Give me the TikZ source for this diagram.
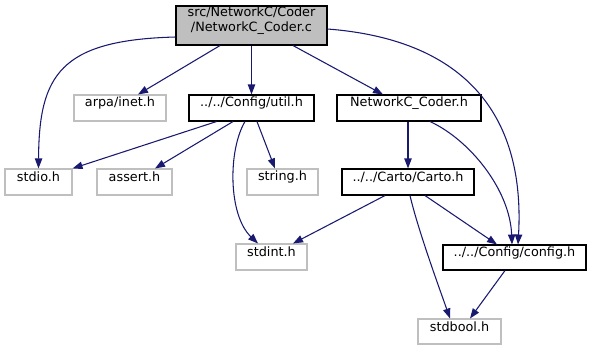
\documentclass[tikz,border=0pt]{standalone}
\usepackage{fontspec}
\setmainfont{DejaVu Sans}
\usetikzlibrary{arrows.meta,fit,calc}
\definecolor{edgeblue}{HTML}{191970}
\definecolor{sysgray}{HTML}{BFBFBF}
\tikzset{
  hdr/.style={draw=black, fill=white, line width=0.8pt, inner sep=0pt,
    font=\fontsize{9.6}{11.4}\selectfont},
  syshdr/.style={hdr, draw=sysgray},
  srcfile/.style={hdr, fill=sysgray, align=center},
  dep/.style={draw=edgeblue, line width=0.8pt,
    -{Triangle[length=7.5pt,width=5.5pt]}},
}
\begin{document}
\begin{tikzpicture}[x=0.75pt,y=-0.75pt]
\useasboundingbox (0,0) rectangle (591,351);
% files
\node[srcfile, fit={(176,6) (327,45)}] (main) {src/NetworkC/Coder\\/NetworkC\_Coder.c};
\node[syshdr, fit={(74,95) (166,121)}] (arpa) {arpa/inet.h};
\node[hdr, fit={(189,95) (314,121)}] (util) {../../Config/util.h};
\node[hdr, fit={(337,95) (481,121)}] (nch) {NetworkC\_Coder.h};
\node[syshdr, fit={(5,169) (72,195)}] (stdio) {stdio.h};
\node[syshdr, fit={(97,169) (172,195)}] (assert) {assert.h};
\node[syshdr, fit={(247,169) (318,195)}] (string) {string.h};
\node[hdr, fit={(342,169) (474,195)}] (carto) {../../Carto/Carto.h};
\node[syshdr, fit={(236,244) (307,270)}] (stdint) {stdint.h};
\node[hdr, fit={(443,245) (586,270)}] (config) {../../Config/config.h};
\node[syshdr, fit={(418,319) (501,344)}] (stdbool) {stdbool.h};
% includes of the source file
\draw[dep] ($(main.west)+(0,11.5)$) .. controls (60,40) and (39,75) .. (stdio.north);
\draw[dep] ($(main.south)+(-31.5,0)$) -- ($(arpa.north)+(18,0)$);
\draw[dep] (main.south) -- (util.north);
\draw[dep] ($(main.south)+(41.5,0)$) -- ($(nch.north)+(-26,0)$);
\draw[dep] ($(main.east)+(0,3.5)$) .. controls (470,40) and (525,120) .. ($(config.north)+(3.5,0)$);
% includes of util.h
\draw[dep] ($(util.south)+(-35,0)$) -- (stdio.north east);
\draw[dep] ($(util.south)+(-18.5,0)$) -- ($(assert.north)+(20.5,0)$);
\draw[dep] ($(util.south)+(5.5,0)$) -- ($(string.north)+(-7.5,0)$);
\draw[dep] ($(util.south)+(-6.5,0)$) .. controls (228,150) and (228,215) .. ($(stdint.north)+(-13.5,0)$);
% includes of NetworkC_Coder.h
\draw[dep] (carto.north |- nch.south) -- (carto.north);
\draw[dep] ($(nch.south)+(21,0)$) .. controls (470,140) and (510,190) .. ($(config.north)+(-2.5,0)$);
% includes of Carto.h
\draw[dep] ($(carto.south)+(-23,0)$) -- ($(stdint.north)+(21.5,0)$);
\draw[dep] ($(carto.south)+(17,0)$) -- ($(config.north)+(-17.5,0)$);
\draw[dep] ($(carto.south)+(2,0)$) .. controls (418,230) and (440,290) .. ($(stdbool.north)+(-9.5,0)$);
% includes of config.h
\draw[dep] ($(config.south)+(-9.5,0)$) -- ($(stdbool.north)+(10.5,0)$);
\end{tikzpicture}
\end{document}
